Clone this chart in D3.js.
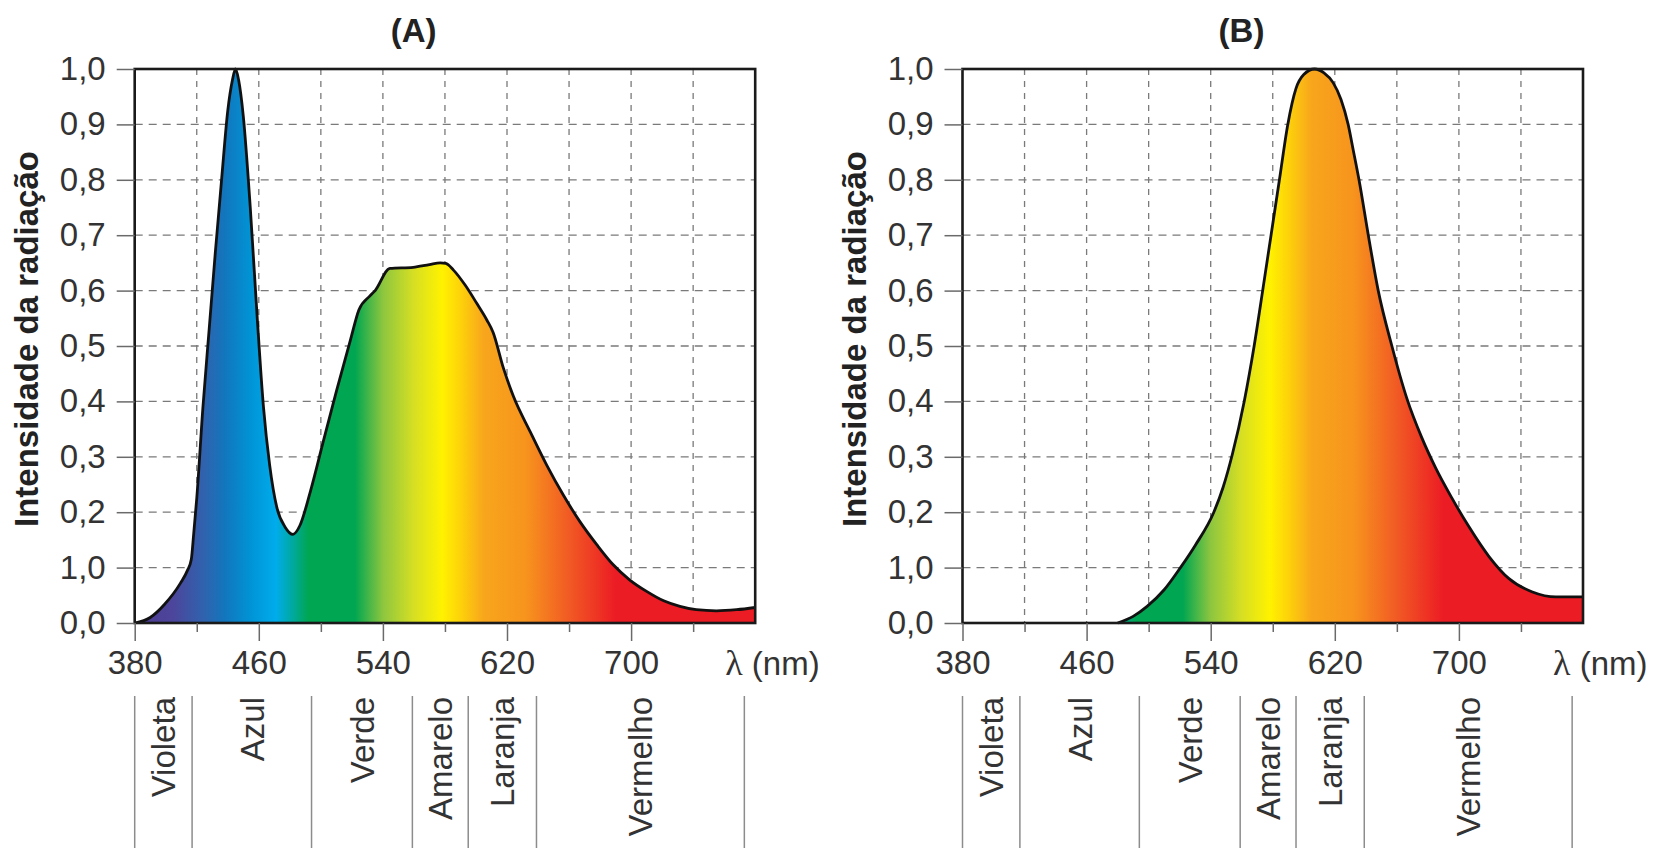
<!DOCTYPE html>
<html>
<head>
<meta charset="utf-8">
<script src="https://cdn.jsdelivr.net/npm/d3@7"></script>
<style>
  body { margin: 0; background: #fff; }
  svg { display: block; font-family: "Liberation Sans", Arial, sans-serif; }
</style>
</head>
<body>
<div id="chart"></div>
<script>
// data: wavelength (nm) and relative intensity
var nmA = [380, 390, 399, 409.5, 414, 416.5, 418, 420, 424, 428, 432, 436, 440, 443, 445, 447, 450, 454.5, 459, 463, 467, 471.5, 477, 482, 486.5, 493, 501.5, 510, 519, 524.5, 531.5, 535, 544.5, 559.5, 570, 577, 580.5, 585.5, 593, 600.5, 607, 611, 617.7, 624, 635, 645.6, 656.3, 667, 678, 688.5, 699, 710, 721, 731.5, 742, 755, 768, 780];
var valA = [0, 0.01, 0.033, 0.072, 0.095, 0.115, 0.16, 0.225, 0.39, 0.53, 0.67, 0.8, 0.925, 0.98, 1.0, 0.98, 0.915, 0.75, 0.55, 0.39, 0.285, 0.21, 0.173, 0.16, 0.176, 0.235, 0.327, 0.418, 0.51, 0.565, 0.59, 0.6, 0.64, 0.642, 0.647, 0.65, 0.649, 0.637, 0.61, 0.577, 0.547, 0.525, 0.46, 0.41, 0.345, 0.285, 0.231, 0.183, 0.141, 0.105, 0.078, 0.057, 0.04, 0.03, 0.024, 0.022, 0.024, 0.028];

var nmB = [480, 490, 499, 510, 520.5, 530, 542, 548, 554, 561.6, 568, 573.5, 578.9, 584.3, 589.7, 595, 600, 607, 613, 619, 624, 628.6, 632, 635.6, 641.6, 648, 656.8, 666.5, 676, 685, 695.6, 706.4, 719.4, 732.3, 747.4, 762.5, 780];
var valB = [0, 0.012, 0.03, 0.06, 0.1, 0.14, 0.2, 0.245, 0.305, 0.4, 0.5, 0.6, 0.7, 0.8, 0.9, 0.965, 0.99, 1.0, 0.993, 0.975, 0.945, 0.9, 0.852, 0.8, 0.7, 0.6, 0.5, 0.405, 0.335, 0.28, 0.225, 0.174, 0.12, 0.08, 0.056, 0.047, 0.047];

var yTicks = [0, 0.1, 0.2, 0.3, 0.4, 0.5, 0.6, 0.7, 0.8, 0.9, 1.0];
var yTickLabels = ["0,0", "1,0", "0,2", "0,3", "0,4", "0,5", "0,6", "0,7", "0,8", "0,9", "1,0"];
var xMajor = [380, 460, 540, 620, 700];
var xMinor = [420, 500, 580, 660, 740];
var xGrid = [420, 460, 500, 540, 580, 620, 660, 700, 740];

var bandEdges = [380, 417, 494, 559, 595, 639, 773];
var bandNames = ["Violeta", "Azul", "Verde", "Amarelo", "Laranja", "Vermelho"];

// spectrum colours used for the fill
var specNm = [380, 405, 425, 438, 455, 471, 482, 492, 522, 540, 560, 578, 590, 605, 632, 660, 690, 780];
var specCol = ["#4e3a8f", "#4c469c", "#2f63ae", "#1276bd", "#0094d6", "#00acec", "#00a99d", "#00a651", "#00a651", "#8dc63f", "#d7df23", "#fff200", "#fdd20a", "#f8a61c", "#f7941d", "#f15a24", "#ec1c24", "#ec1c24"];

var W = 1662, H = 854;
var plotTop = 69, plotBottom = 623, plotW = 620.5;

var svg = d3.select("#chart")
    .append("svg")
        .attr("width", W)
        .attr("height", H);

function drawPanel(left, nm, val, title, id) {
    var x = d3.scaleLinear().domain([380, 780]).range([left, left + plotW]);
    var y = d3.scaleLinear().domain([0, 1]).range([plotBottom, plotTop]);
    var g = svg.append("g");

    // gradient
    var grad = svg.append("defs").append("linearGradient")
        .attr("id", id)
        .attr("gradientUnits", "userSpaceOnUse")
        .attr("x1", x(380)).attr("x2", x(780))
        .attr("y1", 0).attr("y2", 0);
    grad.selectAll("stop")
        .data(specNm)
        .enter().append("stop")
            .attr("offset", function(d) { return (d - 380) / 400; })
            .attr("stop-color", function(d, i) { return specCol[i]; });

    // grid
    g.append("g").selectAll("line")
        .data(yTicks.slice(1, -1))
        .enter().append("line")
            .attr("x1", x(380)).attr("x2", x(780))
            .attr("y1", function(d) { return y(d); })
            .attr("y2", function(d) { return y(d); })
            .attr("stroke", "#7a7a7a").attr("stroke-width", 1.3)
            .attr("stroke-dasharray", "8,6");
    g.append("g").selectAll("line")
        .data(xGrid)
        .enter().append("line")
            .attr("x1", function(d) { return x(d); })
            .attr("x2", function(d) { return x(d); })
            .attr("y1", plotTop).attr("y2", plotBottom)
            .attr("stroke", "#7a7a7a").attr("stroke-width", 1.3)
            .attr("stroke-dasharray", "6,6");

    // area + curve
    var pts = nm.map(function(d, i) { return [d, val[i]]; });
    var area = d3.area()
        .x(function(d) { return x(d[0]); })
        .y0(y(0))
        .y1(function(d) { return y(d[1]); })
        .curve(d3.curveMonotoneX);
    var line = d3.line()
        .x(function(d) { return x(d[0]); })
        .y(function(d) { return y(d[1]); })
        .curve(d3.curveMonotoneX);
    g.append("path").datum(pts)
        .attr("d", area)
        .attr("fill", "url(#" + id + ")");
    g.append("path").datum(pts)
        .attr("d", line)
        .attr("fill", "none")
        .attr("stroke", "#111")
        .attr("stroke-width", 2.8)
        .attr("stroke-linejoin", "round");

    // frame
    g.append("rect")
        .attr("x", x(380)).attr("y", plotTop)
        .attr("width", plotW).attr("height", plotBottom - plotTop)
        .attr("fill", "none")
        .attr("stroke", "#1a1a1a")
        .attr("stroke-width", 2.6);

    // y axis
    var yAxis = d3.axisLeft(y)
        .tickValues(yTicks)
        .tickFormat(function(d, i) { return yTickLabels[i]; })
        .tickSize(18)
        .tickPadding(11);
    var ya = g.append("g").attr("transform", "translate(" + x(380) + ",0)").call(yAxis);
    ya.select(".domain").remove();
    ya.selectAll("line").attr("stroke", "#6a6a6a").attr("stroke-width", 1.5);
    ya.selectAll("text")
        .attr("font-size", 33)
        .attr("font-family", "Liberation Sans, Arial, sans-serif")
        .attr("fill", "#333");

    // x axis
    var xAxis = d3.axisBottom(x)
        .tickValues(xMajor)
        .tickSize(18)
        .tickPadding(10);
    var xa = g.append("g").attr("transform", "translate(0," + plotBottom + ")").call(xAxis);
    xa.select(".domain").remove();
    xa.selectAll("line").attr("stroke", "#6a6a6a").attr("stroke-width", 1.5);
    xa.selectAll("text")
        .attr("font-size", 33)
        .attr("font-family", "Liberation Sans, Arial, sans-serif")
        .attr("fill", "#333");
    var xm = g.append("g").attr("transform", "translate(0," + plotBottom + ")")
        .call(d3.axisBottom(x).tickValues(xMinor).tickSize(9).tickFormat(""));
    xm.select(".domain").remove();
    xm.selectAll("line").attr("stroke", "#6a6a6a").attr("stroke-width", 1.5);

    var lam = g.append("text")
        .attr("x", x(780) - 30)
        .attr("y", 675)
        .attr("font-size", 33)
        .attr("fill", "#333");
    lam.append("tspan").attr("font-family", "Liberation Serif, serif").attr("font-size", 36).text("λ");
    lam.append("tspan").text(" (nm)");

    // colour bands below
    g.append("g").selectAll("line")
        .data(bandEdges)
        .enter().append("line")
            .attr("x1", function(d) { return x(d); })
            .attr("x2", function(d) { return x(d); })
            .attr("y1", 696).attr("y2", 848)
            .attr("stroke", "#8c8c8c").attr("stroke-width", 1.5);
    g.append("g").selectAll("text")
        .data(bandNames)
        .enter().append("text")
            .attr("transform", function(d, i) {
                var cx = x((bandEdges[i] + bandEdges[i + 1]) / 2) + 12;
                return "translate(" + cx + ",697) rotate(-90)";
            })
            .attr("text-anchor", "end")
            .attr("font-size", 33)
            .attr("fill", "#333")
            .text(function(d) { return d; });

    // title + y label
    g.append("text")
        .attr("x", left + 279)
        .attr("y", 42)
        .attr("text-anchor", "middle")
        .attr("font-size", 33)
        .attr("font-weight", "bold")
        .attr("fill", "#222")
        .text(title);
    g.append("text")
        .attr("transform", "translate(" + (left - 97) + ",339) rotate(-90)")
        .attr("text-anchor", "middle")
        .attr("font-size", 33)
        .attr("font-weight", "bold")
        .attr("fill", "#222")
        .text("Intensidade da radiação");
}

drawPanel(134.7, nmA, valA, "(A)", "specA");
drawPanel(962.5, nmB, valB, "(B)", "specB");
</script>
</body>
</html>
